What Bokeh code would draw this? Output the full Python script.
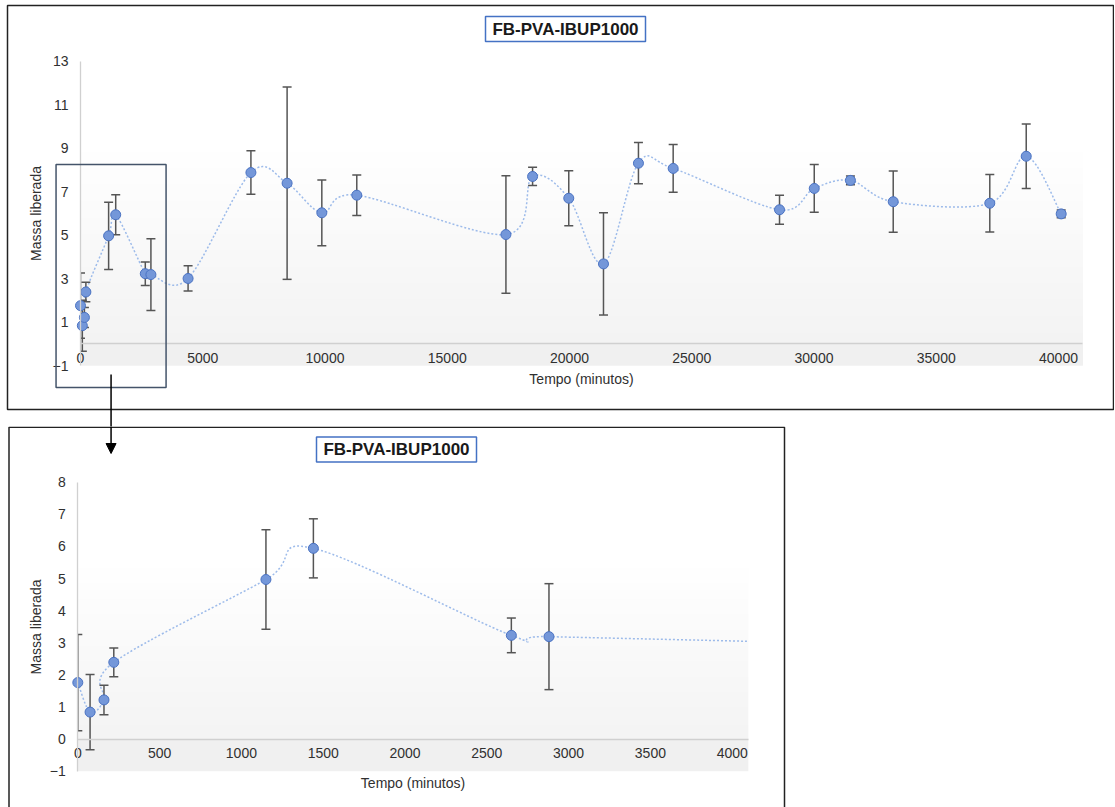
import numpy as np
from bokeh.plotting import figure
from bokeh.models import (LinearAxis, FixedTicker, Range1d, Label, BoxAnnotation,
                          Arrow, NormalHead)
from bokeh.layouts import column
from bokeh.embed import file_html
from bokeh.resources import INLINE

# ---------------- data ----------------
time_min = [0, 75, 160, 220, 1150, 1440, 2650, 2880, 4400, 6970, 8450, 9870, 11300,
            17400, 18490, 19970, 21390, 22820, 24240, 28590, 30010, 31490, 33240,
            37190, 38680, 40110]
mass = [1.76, 0.84, 1.22, 2.39, 4.97, 5.94, 3.23, 3.19, 3.01, 7.88, 7.39, 6.03, 6.84,
        5.03, 7.70, 6.70, 3.68, 8.31, 8.07, 6.17, 7.15, 7.52, 6.54, 6.47, 8.63, 5.98]
err = [1.50, 1.17, 0.46, 0.45, 1.55, 0.92, 0.54, 1.65, 0.58, 1.00, 4.42, 1.51, 0.93,
       2.70, 0.42, 1.26, 2.35, 0.95, 1.10, 0.67, 1.10, 0.20, 1.41, 1.32, 1.48, 0.18]
zoom_n = 9   # the zoomed chart plots the first 9 samples

title_text = "FB-PVA-IBUP1000"
x_title = "Tempo (minutos)"
y_title = "Massa liberada"

top_xticks = [0, 5000, 10000, 15000, 20000, 25000, 30000, 35000, 40000]
top_yticks = [-1, 1, 3, 5, 7, 9, 11, 13]
bot_xticks = [0, 500, 1000, 1500, 2000, 2500, 3000, 3500, 4000]
bot_yticks = [-1, 0, 1, 2, 3, 4, 5, 6, 7, 8]

top_area = (0, 41000, -1, 13)     # plot area (x0, x1, y0, y1)
bot_area = (0, 4100, -1, 8)
zoom_window = (-1000, 3500, -2.0, 8.25)   # box marking the zoomed region

# ---------------- style ----------------
FONT = "Liberation Sans"
TXT = "#303030"
AXIS = "#d0d0d0"
LINE_C = "#9dbbea"
MK_FILL = "#7497d9"
MK_LINE = "#4a72c2"
ERR_C = "#555555"
BORDER = "#222222"


def gradient_img(ymin, ymax, n=300):
    ys = ymin + (np.arange(n) + 0.5) * (ymax - ymin) / n
    t = (ymax - ys) / (ymax - ymin)
    g = np.where(t < 0.3, 255.0, 255.0 - (t - 0.3) / 0.7 * 13.0)
    g = np.where(ys < 0, 240.0, g)
    arr = np.zeros((n, 2), dtype=np.uint32)
    v = arr.view(dtype=np.uint8).reshape((n, 2, 4))
    for c in range(3):
        v[:, :, c] = g[:, None].astype(np.uint8)
    v[:, :, 3] = 255
    return arr


def bezier_ctrl(xs, ys):
    xs = np.asarray(xs, float)
    ys = np.asarray(ys, float)
    n = len(xs)
    xp = np.concatenate([[xs[0]], xs, [xs[-1]]])
    yp = np.concatenate([[ys[0]], ys, [ys[-1]]])
    x0, y0 = xs[:-1], ys[:-1]
    x1, y1 = xs[1:], ys[1:]
    prevx, prevy = xp[0:n - 1], yp[0:n - 1]
    nx, ny = xp[3:n + 2], yp[3:n + 2]
    cx0 = x0 + (x1 - prevx) / 6.0
    cy0 = y0 + (y1 - prevy) / 6.0
    cx1 = x1 - (nx - x0) / 6.0
    cy1 = y1 - (ny - y0) / 6.0
    return x0, y0, x1, y1, cx0, cy0, cx1, cy1


def make_chart(W, H, xr, yr, area, ts, ms, es, xticks, yticks, xl_stand, yl_stand,
               xt_stand, yt_stand, title_px, box_px, right_mask):
    p = figure(width=W, height=H, x_range=Range1d(*xr), y_range=Range1d(*yr),
               x_axis_type=None, y_axis_type=None, toolbar_location=None,
               output_backend="svg", min_border=0, outline_line_color=None,
               background_fill_color="white", border_fill_color="white")
    sx = (xr[1] - xr[0]) / W
    sy = (yr[1] - yr[0]) / H

    def px2x(px):
        return xr[0] + px * sx

    def py2y(py):
        return yr[1] - py * sy

    ax0, ax1, ay0, ay1 = area
    # plot-area gradient
    p.image_rgba(image=[gradient_img(ay0, ay1)], x=ax0, y=ay0, dw=ax1 - ax0, dh=ay1 - ay0)

    # smoothed line
    x0, y0, x1, y1, cx0, cy0, cx1, cy1 = bezier_ctrl(ts, ms)
    p.bezier(x0=x0, y0=y0, x1=x1, y1=y1, cx0=cx0, cy0=cy0, cx1=cx1, cy1=cy1,
             line_color=LINE_C, line_width=1.5, line_dash="2 2")

    # error bars
    lo = [m - e for m, e in zip(ms, es)]
    hi = [m + e for m, e in zip(ms, es)]
    p.segment(x0=ts, y0=lo, x1=ts, y1=hi, line_color=ERR_C, line_width=1.5)
    p.scatter(x=ts, y=lo, marker="dash", size=9, line_color=ERR_C, line_width=1.5)
    p.scatter(x=ts, y=hi, marker="dash", size=9, line_color=ERR_C, line_width=1.5)

    # clip to the plot area (white masks)
    p.quad(left=xr[0] - 1, right=ax0, bottom=yr[0] - 1, top=yr[1] + 1,
           fill_color="white", line_color=None)
    if right_mask:
        p.quad(left=ax1, right=xr[1] + 1, bottom=yr[0] - 1, top=yr[1] + 1,
               fill_color="white", line_color=None)

    # markers
    p.scatter(x=ts, y=ms, size=10, fill_color=MK_FILL, line_color=MK_LINE, line_width=1)

    # axes
    xax = LinearAxis(fixed_location=0, bounds=(ax0, ax1), ticker=FixedTicker(ticks=xticks),
                     axis_label=x_title)
    yax = LinearAxis(fixed_location=0, bounds=(ay0, ay1), ticker=FixedTicker(ticks=yticks),
                     axis_label=y_title)
    for ax, ls, tsd in ((xax, xl_stand, xt_stand), (yax, yl_stand, yt_stand)):
        ax.axis_line_color = AXIS
        ax.axis_line_width = 1.3
        ax.major_tick_line_color = None
        ax.minor_tick_line_color = None
        ax.major_tick_in = 0
        ax.major_tick_out = 0
        ax.major_label_standoff = tsd
        ax.axis_label_standoff = ls
        ax.major_label_text_font = FONT
        ax.major_label_text_font_size = "14px"
        ax.major_label_text_color = TXT
        ax.axis_label_text_font = FONT
        ax.axis_label_text_font_size = "14px"
        ax.axis_label_text_font_style = "normal"
        ax.axis_label_text_color = TXT
    p.add_layout(xax, "below")
    p.add_layout(yax, "left")

    # chart border
    bl, bt, br, bb = box_px
    p.add_layout(BoxAnnotation(left=px2x(bl), right=px2x(br), top=py2y(bt), bottom=py2y(bb),
                               fill_alpha=0, line_color=BORDER, line_alpha=1, line_width=1.5))

    # title box
    tx, ty = px2x(title_px[0]), py2y(title_px[1])
    p.rect(x=[tx], y=[ty], width=160, height=25, width_units="screen",
           height_units="screen", fill_color="white", line_color="#4472c4", line_width=1.5)
    p.add_layout(Label(x=tx, y=ty, text=title_text, text_align="center",
                       text_baseline="middle", text_font=FONT, text_font_size="17px",
                       text_font_style="bold", text_color="#1a1a1a"))
    return p, px2x, py2y


# ---------------- top chart ----------------
W1, H1 = 1114, 426
x_per_px1, y_per_px1 = 1 / 0.02445, 1 / 21.75
xr1 = (-80 * x_per_px1, (W1 - 80) * x_per_px1)
yr1 = (13 - (H1 - 60.7) * y_per_px1, 13 + 60.7 * y_per_px1)
top, tpx2x, tpy2y = make_chart(W1, H1, xr1, yr1, top_area, time_min, mass, err,
                               top_xticks, top_yticks,
                               xl_stand=5, yl_stand=6, xt_stand=9, yt_stand=12,
                               title_px=(565, 28.5), box_px=(7, 5, 1113, 409),
                               right_mask=False)
zx0, zx1, zy0, zy1 = zoom_window
top.add_layout(BoxAnnotation(left=zx0, right=zx1, bottom=zy0, top=zy1, fill_alpha=0,
                             line_color="#44546a", line_alpha=1, line_width=1.5))
arrow_x_top = (zx0 + zx1) / 2
arrow_px = (arrow_x_top - xr1[0]) / (xr1[1] - xr1[0]) * W1
top.add_layout(Arrow(end=None, x_start=arrow_x_top, y_start=tpy2y(374),
                     x_end=arrow_x_top, y_end=yr1[0] - 1, line_color="black", line_width=1.5))

# ---------------- bottom chart ----------------
W2, H2 = 786, 381
x_per_px2, y_per_px2 = 1 / 0.1636, 1 / 32.11
xr2 = (-77.3 * x_per_px2, (W2 - 77.3) * x_per_px2)
yr2 = (8 - (H2 - 55.7) * y_per_px2, 8 + 55.7 * y_per_px2)
bot, bpx2x, bpy2y = make_chart(W2, H2, xr2, yr2, bot_area, time_min[:zoom_n], mass[:zoom_n],
                               err[:zoom_n], bot_xticks, bot_yticks,
                               xl_stand=13, yl_stand=3, xt_stand=9, yt_stand=12,
                               title_px=(396, 23), box_px=(8.5, 0.75, 784, H2 + 20),
                               right_mask=True)
ax_b = bpx2x(arrow_px)
bot.add_layout(Arrow(end=NormalHead(size=10, fill_color="black", line_color="black"),
                     x_start=ax_b, y_start=yr2[1] + 1, x_end=ax_b, y_end=bpy2y(27),
                     line_color="black", line_width=1.5))

layout = column(top, bot, spacing=0)
open("out.html", "w").write(file_html(layout, INLINE))
